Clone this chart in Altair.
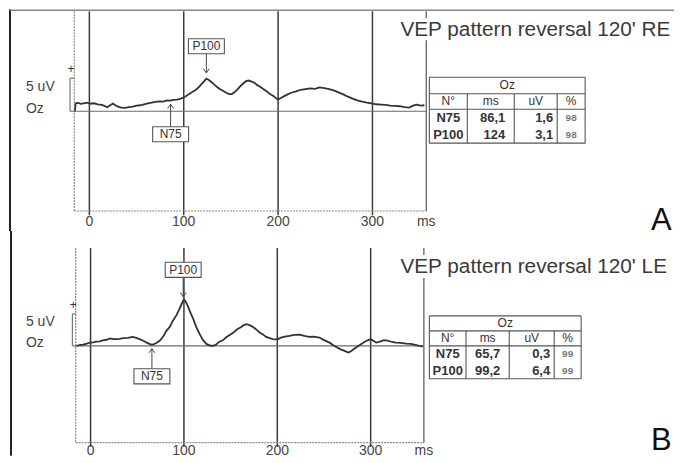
import altair as alt
import pandas as pd

# ---------------- data ----------------
a_ms = [-15.3, -14.5, -12, -9, -6, -3, 1, 5, 9, 13, 16, 19, 22, 25, 28, 31, 34, 38, 42, 46, 50, 54, 58, 62, 66,
        70, 74, 78, 82, 86, 89, 93, 97, 101, 105, 109, 113, 116, 119, 122, 124, 127, 130, 133, 136, 139, 142,
        145, 148, 151, 154, 157, 160, 163, 166, 169, 172, 175, 178, 181, 184, 188, 191, 195, 198, 200, 203,
        206, 210, 214, 219, 224, 229, 234, 239, 244, 249, 254, 259, 264, 269, 274, 279, 284, 289, 294, 299,
        304, 309, 314, 319, 324, 329, 334, 339, 343, 347, 351, 355]
a_uv = [0.0, 1.2, 1.25, 1.1, 1.2, 1.3, 1.15, 1.2, 1.05, 0.95, 0.8, 0.6, 0.9, 1.15, 0.85, 0.65, 0.55, 0.5, 0.62,
        0.7, 0.85, 0.9, 1.05, 1.2, 1.3, 1.4, 1.5, 1.45, 1.65, 1.6, 1.7, 1.75, 1.9, 2.15, 2.55, 2.9, 3.25, 3.65,
        4.15, 4.6, 4.95, 4.7, 4.35, 3.95, 3.6, 3.3, 3.05, 2.8, 2.6, 2.6, 2.9, 3.3, 3.8, 4.2, 4.55, 4.65, 4.5,
        4.3, 3.95, 3.7, 3.4, 3.0, 2.65, 2.3, 1.95, 1.75, 2.0, 2.25, 2.55, 2.8, 3.0, 3.25, 3.35, 3.45, 3.4, 3.6,
        3.5, 3.35, 3.15, 2.85, 2.55, 2.2, 1.9, 1.65, 1.45, 1.3, 1.2, 1.05, 1.0, 0.95, 0.85, 0.8, 0.75, 0.6,
        0.55, 0.85, 1.0, 0.85, 0.9]

b_ms = [-15, -12, -8, -4, -1, 3, 6, 10, 13, 17, 21, 24, 28, 31, 35, 40, 45, 49, 53, 57, 60, 63, 66, 70, 74,
        78, 81, 85, 88, 92, 95, 98, 100, 102, 104, 107, 110, 113, 117, 120, 124, 128, 131, 134, 138, 142, 145,
        149, 153, 157, 161, 164, 167, 171, 174, 178, 181, 185, 188, 192, 195, 198, 201, 204, 208, 213, 218,
        224, 229, 234, 239, 245, 250, 256, 260, 264, 268, 272, 276, 279, 282, 286, 290, 295, 300, 303, 306,
        310, 314, 318, 323, 327, 332, 338, 343, 348, 352, 356]
b_uv = [0.0, 0.1, 0.2, 0.35, 0.5, 0.55, 0.65, 0.7, 0.85, 0.95, 1.15, 1.05, 1.05, 1.1, 1.2, 1.25, 1.4, 1.25,
        1.0, 0.75, 0.5, 0.3, 0.15, 0.4, 0.8, 1.5, 2.3, 3.0, 3.9, 4.8, 5.7, 6.7, 7.25, 6.9, 6.3, 5.2, 4.2, 3.0,
        1.8, 1.0, 0.3, 0.05, 0.0, 0.15, 0.65, 0.9, 1.3, 1.7, 2.1, 2.6, 2.9, 3.25, 3.4, 3.2, 2.95, 2.5, 2.1,
        1.75, 1.4, 1.2, 1.05, 1.0, 1.05, 1.3, 1.45, 1.55, 1.7, 1.75, 1.55, 1.4, 1.45, 1.3, 0.9, 0.5, 0.1,
        -0.25, -0.55, -0.8, -1.05, -0.85, -0.5, -0.1, 0.3, 0.75, 1.05, 0.8, 0.5, 0.65, 0.9, 0.8, 0.6, 0.5,
        0.45, 0.35, 0.3, 0.15, 0.0, -0.1]

tick_values = [0, 100, 200, 300]
tick_labels = ["0", "100", "200", "300"]
unit_label = "ms"

a_title = "VEP pattern reversal 120' RE"
b_title = "VEP pattern reversal 120' LE"
letters = ["A", "B"]

channel = "Oz"
table_header = ["N°", "ms", "uV", "%"]
peaks = ["N75", "P100"]
a_lat = [86.1, 124]
a_amp = [1.6, 3.1]
a_pct = [98, 98]
b_lat = [65.7, 99.2]
b_amp = [0.3, 6.4]
b_pct = [99, 99]

FONT = "Liberation Sans"

# ---------------- layout ----------------
GA = dict(w=667, h=222, x0=81.5, pxms=0.945, y0=102, pxuv=6.6,
          top=15.15, bot=-15.15, gbot=-15.8, lab=-16.8, fl=-16, fr=357, bx=-20.5,
          border_x=2, border_top=1,
          title=(393, 26.5, 9, 31), letter=(644, 221),
          table=dict(cols=[422, 460, 507, 550, 578], rows=[68, 84.5, 100, 134]),
          ann={"P100": (9.85, 8.8, 5.8, "down"), "N75": (-3.5, -2.45, 1.05, "up")})
GB = dict(w=667, h=225, x0=82.7, pxms=0.935, y0=115, pxuv=6.4,
          top=15.3, bot=-15.16, gbot=-15.8, lab=-16.4, fl=-16, fr=357, bx=-19.5,
          border_x=3, border_top=None,
          title=(393, 42.3, 24, 47), letter=(644, 219),
          table=dict(cols=[422, 458.7, 502, 547, 574], rows=[85, 100, 115, 148]),
          ann={"P100": (11.9, 10.8, 7.7, "down"), "N75": (-4.77, -3.67, -0.45, "up")})


def fmt(v):
    return str(v).replace(".", ",")


def panel(g, t_ms, t_uv, title, letter, lat, amp, pct):
    W, H = g["w"], g["h"]
    xs = alt.Scale(domain=[-g["x0"] / g["pxms"], (W - g["x0"]) / g["pxms"]], nice=False, zero=False)
    ys = alt.Scale(domain=[-(H - g["y0"]) / g["pxuv"], g["y0"] / g["pxuv"]], nice=False, zero=False)

    def X(f):
        return alt.X(f, type="quantitative", scale=xs, axis=None)

    def Y(f):
        return alt.Y(f, type="quantitative", scale=ys, axis=None)

    def PX(f):
        return alt.X(f, type="quantitative", scale=None, axis=None)

    def PY(f):
        return alt.Y(f, type="quantitative", scale=None, axis=None)

    layers = []
    # page border
    layers.append(alt.Chart(pd.DataFrame({"a": [0]})).mark_rule(color="#222", strokeWidth=2).encode(
        x=alt.value(g["border_x"]), y=alt.value(0), y2=alt.value(H)))
    if g["border_top"] is not None:
        layers.append(alt.Chart(pd.DataFrame({"a": [0]})).mark_rule(color="#888", strokeWidth=1.5).encode(
            x=alt.value(g["border_x"]), x2=alt.value(W), y=alt.value(g["border_top"])))

    # grid lines
    grid = pd.DataFrame({"ms": tick_values, "t": [g["top"]] * 4, "b": [g["gbot"]] * 4})
    layers.append(alt.Chart(grid).mark_rule(color="#3a3a3a", strokeWidth=1.5).encode(
        x=X("ms"), y=Y("t"), y2=alt.Y2("b")))

    # dotted frame (left and bottom)
    dotted = pd.DataFrame({"x1": [g["fl"], g["fl"]], "x2": [g["fl"], g["fr"]],
                           "y1": [g["top"], g["bot"]], "y2": [g["bot"], g["bot"]]})
    layers.append(alt.Chart(dotted).mark_rule(color="#8a8a8a", strokeWidth=1.2, strokeDash=[2, 1]).encode(
        x=X("x1"), x2=alt.X2("x2"), y=Y("y1"), y2=alt.Y2("y2")))
    # right frame
    right = pd.DataFrame({"x1": [g["fr"]], "y1": [g["top"]], "y2": [g["bot"]]})
    layers.append(alt.Chart(right).mark_rule(color="#555", strokeWidth=1.2).encode(
        x=X("x1"), y=Y("y1"), y2=alt.Y2("y2")))

    # baseline + calibration bracket
    cal = pd.DataFrame({"x1": [g["bx"], g["bx"], g["bx"]], "x2": [g["fr"], g["bx"], g["fl"]],
                        "y1": [0, 0, 5], "y2": [0, 5, 5]})
    layers.append(alt.Chart(cal).mark_rule(color="#6a6a6a", strokeWidth=1.1).encode(
        x=X("x1"), x2=alt.X2("x2"), y=Y("y1"), y2=alt.Y2("y2")))
    plus = pd.DataFrame({"x": [g["bx"] + 1], "y": [6.4], "t": ["+"]})
    layers.append(alt.Chart(plus).mark_text(font=FONT, fontSize=12, color="#333").encode(
        x=X("x"), y=Y("y"), text="t:N"))
    side = pd.DataFrame({"x": [18, 18], "y": [g["y0"] - 3.7 * g["pxuv"], g["y0"] - 0.4 * g["pxuv"]],
                         "t": ["5 uV", channel]})
    layers.append(alt.Chart(side).mark_text(font=FONT, fontSize=14, color="#444", align="left",
                                            baseline="middle").encode(x=PX("x"), y=PY("y"), text="t:N"))

    # trace
    tr = pd.DataFrame({"ms": t_ms, "uv": t_uv})
    layers.append(alt.Chart(tr).mark_line(color="#333", strokeWidth=1.8).encode(
        x=X("ms"), y=Y("uv"), order="ms:Q"))

    # tick labels
    tl = pd.DataFrame({"ms": tick_values + [g["fr"]], "t": tick_labels + [unit_label],
                       "y": [g["lab"]] * 5})
    layers.append(alt.Chart(tl).mark_text(font=FONT, fontSize=14, color="#444", baseline="middle").encode(
        x=X("ms"), y=Y("y"), text="t:N"))

    # annotations
    rows = []
    for name, L in zip(peaks, lat):
        box, tail, tip, d = g["ann"][name]
        rows.append(dict(name=name, ms=L, box=box, tail=tail, tip=tip, d=d))
    an = pd.DataFrame(rows)
    layers.append(alt.Chart(an).mark_rule(color="#444", strokeWidth=1).encode(
        x=X("ms"), y=Y("tail"), y2=alt.Y2("tip")))
    layers.append(alt.Chart(an[an.d == "down"]).mark_point(
        shape="M-1,-1.4L0,0L1,-1.4", size=36, filled=False, color="#444", strokeWidth=1, opacity=1).encode(
        x=X("ms"), y=Y("tip")))
    layers.append(alt.Chart(an[an.d == "up"]).mark_point(
        shape="M-1,1.4L0,0L1,1.4", size=36, filled=False, color="#444", strokeWidth=1, opacity=1).encode(
        x=X("ms"), y=Y("tip")))
    layers.append(alt.Chart(an).mark_point(
        shape="M-1,-0.42H1V0.42H-1Z", size=1296, filled=True, fill="white", stroke="#555",
        strokeWidth=1.1, opacity=1).encode(x=X("ms"), y=Y("box")))
    layers.append(alt.Chart(an).mark_text(font=FONT, fontSize=12, color="#333", baseline="middle").encode(
        x=X("ms"), y=Y("box"), text="name:N"))

    # title (with a white backing that interrupts the frame line) and panel letter
    tx, ty, ry1, ry2 = g["title"]
    bg = pd.DataFrame({"x1": [tx - 2], "x2": [W], "y1": [ry1], "y2": [ry2]})
    layers.append(alt.Chart(bg).mark_rect(color="white").encode(
        x=PX("x1"), x2=alt.X2("x2"), y=PY("y1"), y2=alt.Y2("y2")))
    tt = pd.DataFrame({"x": [tx], "y": [ty], "t": [title]})
    layers.append(alt.Chart(tt).mark_text(font=FONT, fontSize=20.8, color="#3a3a3a", align="left",
                                          baseline="alphabetic").encode(
        x=PX("x"), y=PY("y"), text="t:N"))
    lt = pd.DataFrame({"x": [g["letter"][0]], "y": [g["letter"][1]], "t": [letter]})
    layers.append(alt.Chart(lt).mark_text(font=FONT, fontSize=31, color="#111", align="left",
                                          baseline="alphabetic").encode(
        x=PX("x"), y=PY("y"), text="t:N"))

    # table
    L0, c1, c2, c3, R = g["table"]["cols"]
    r0, r1, r2, rb = g["table"]["rows"]
    segs = [(L0, r0, R, r0), (L0, r1, R, r1), (L0, r2, R, r2), (L0, rb, R, rb),
            (L0, r0, L0, rb), (R, r0, R, rb), (c1, r1, c1, rb), (c2, r1, c2, rb), (c3, r1, c3, rb)]
    tl_df = pd.DataFrame(segs, columns=["x1", "y1", "x2", "y2"])
    layers.append(alt.Chart(tl_df).mark_rule(color="#555", strokeWidth=1.1).encode(
        x=PX("x1"), x2=alt.X2("x2"), y=PY("y1"), y2=alt.Y2("y2")))
    cc = [(L0 + c1) / 2, (c1 + c2) / 2, (c2 + c3) / 2, (c3 + R) / 2]
    ry = [r2 + (rb - r2) * 0.26, r2 + (rb - r2) * 0.76]
    hdr = pd.DataFrame({"x": [(L0 + R) / 2] + cc, "y": [(r0 + r1) / 2] + [(r1 + r2) / 2] * 4,
                        "t": [channel] + table_header})
    layers.append(alt.Chart(hdr).mark_text(font=FONT, fontSize=12, color="#333", baseline="middle").encode(
        x=PX("x"), y=PY("y"), text="t:N"))
    lab = pd.DataFrame({"x": [cc[0]] * 2, "y": ry, "t": peaks})
    layers.append(alt.Chart(lab).mark_text(font=FONT, fontSize=13, fontWeight="bold", color="#333",
                                           baseline="middle").encode(x=PX("x"), y=PY("y"), text="t:N"))
    vals = pd.DataFrame({"x": [c2 - 9] * 2 + [c3 - 4] * 2, "y": ry + ry,
                         "t": [fmt(v) for v in lat] + [fmt(v) for v in amp]})
    layers.append(alt.Chart(vals).mark_text(font=FONT, fontSize=13, fontWeight="bold", color="#333",
                                            align="right", baseline="middle").encode(
        x=PX("x"), y=PY("y"), text="t:N"))
    pc = pd.DataFrame({"x": [cc[3]] * 2, "y": ry, "t": [str(p) for p in pct]})
    layers.append(alt.Chart(pc).mark_text(font=FONT, fontSize=10, fontWeight="bold", color="#777",
                                          baseline="middle").encode(x=PX("x"), y=PY("y"), text="t:N"))

    return alt.layer(*layers).properties(width=W, height=H)


pa = panel(GA, a_ms, a_uv, a_title, letters[0], a_lat, a_amp, a_pct)
pb = panel(GB, b_ms, b_uv, b_title, letters[1], b_lat, b_amp, b_pct)

chart = alt.vconcat(pa, pb, spacing=0, bounds="flush").properties(
    padding=0, background="white"
).configure_view(strokeWidth=0)

chart.save("out.html", embed_options={"renderer": "svg", "actions": False})
